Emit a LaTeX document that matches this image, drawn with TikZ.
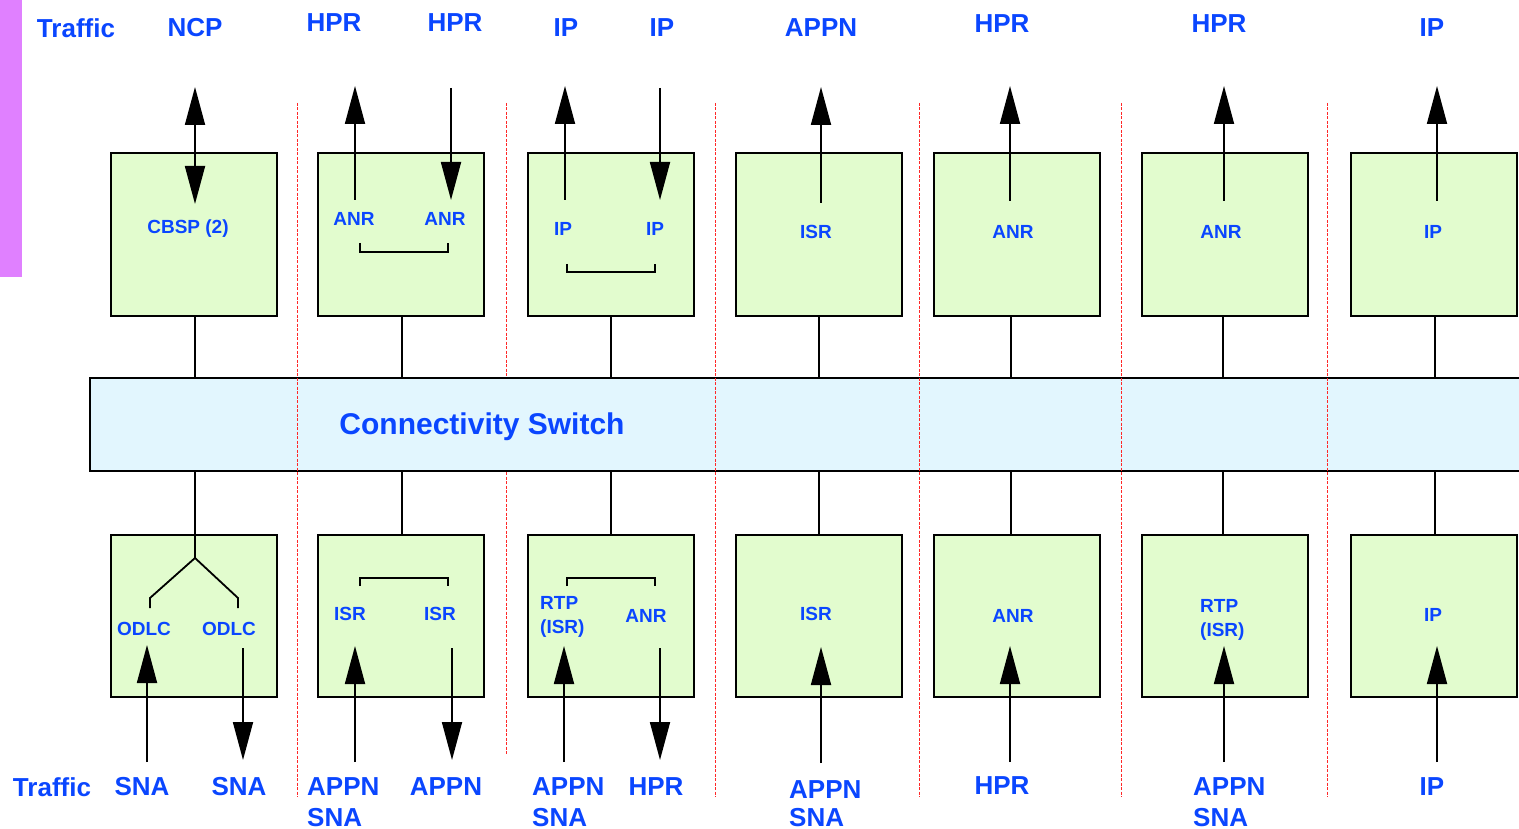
\documentclass[tikz,border=0pt]{standalone}
\usepackage{fontspec}
\setmainfont{Liberation Sans}
\usetikzlibrary{arrows.meta}
\definecolor{lblue}{RGB}{10,70,255}
\definecolor{boxgreen}{RGB}{226,252,206}
\definecolor{swcyan}{RGB}{226,246,254}
\definecolor{sepred}{RGB}{255,40,40}
\definecolor{barmag}{RGB}{224,128,255}

\begin{document}
\begin{tikzpicture}[x=1pt,y=-1pt,
  unit/.style={draw=black,line width=1.8pt,fill=boxgreen,minimum width=166pt,
    minimum height=163pt,inner sep=0pt,anchor=north west},
  switchbox/.style={draw=black,line width=1.8pt,fill=swcyan,minimum width=1440pt,
    minimum height=93pt,inner sep=0pt,anchor=north west},
  wire/.style={line width=1.8pt,draw=black},
  bracket/.style={line width=1.5pt,draw=black},
  arr/.style={line width=1.8pt,-{Triangle[length=38pt,width=20pt]}},
  darr/.style={line width=1.8pt,{Triangle[length=38pt,width=20pt]}-{Triangle[length=38pt,width=20pt]}},
  sep/.style={draw=sepred,line width=1pt,dash pattern=on 3pt off 1.5pt},
  big/.style={text=lblue,font=\fontsize{26}{31}\selectfont\bfseries,inner sep=0pt},
  small/.style={text=lblue,font=\fontsize{19}{24}\selectfont\bfseries,inner sep=0pt},
  huge/.style={text=lblue,font=\fontsize{30}{36}\selectfont\bfseries,inner sep=0pt}]

\clip (0,0) rectangle (1519,829);

% side bar
\fill[barmag] (0,0) rectangle (22,277);

% this separator runs behind the switch
\draw[sep] (506,103) -- (506,755);

% connectivity switch
\node[switchbox] (sw) at (89,377) {};
\node[huge,anchor=base] (swlabel) at (482,434) {Connectivity Switch};

% function units above and below the switch, with their links to it
\foreach \i/\l/\c in {1/110/195,2/317/402,3/527/611,4/735/819,5/933/1011,6/1141/1223,7/1350/1435} {
  \node[unit] (t\i) at (\l,152) {};
  \node[unit,minimum height=162pt] (b\i) at (\l,534) {};
  \coordinate (k\i) at (\c,0);
  \draw[wire] (t\i.south -| k\i) -- (sw.north -| k\i);
  \draw[wire] (sw.south -| k\i) -- (b\i.north -| k\i);
}

% the other column separators cross the switch
\foreach \x in {297,715,919,1121,1327}
  \draw[sep] (\x,103) -- (\x,797);

% traffic arrows (top)
\coordinate (n1a) at (195,87); \coordinate (n1b) at (195,204);
\draw[darr] (n1a) -- (n1b);
\foreach \n/\x/\a/\b in {u2/355/200/86,d2/451/88/200,u3/565/200/86,d3/660/88/200,
    u4/821/203/87,u5/1010/201/86,u6/1224/201/86,u7/1437/201/86} {
  \coordinate (\n s) at (\x,\a); \coordinate (\n e) at (\x,\b);
  \draw[arr] (\n s) -- (\n e);
}

% traffic arrows (bottom)
\foreach \n/\x/\a/\b in {p1/147/762/645,q1/243/648/760,p2/355/762/646,q2/452/648/760,
    p3/564/762/646,q3/660/648/760,p4/821/763/647,p5/1010/762/646,p6/1224/762/646,p7/1437/762/646} {
  \coordinate (\n s) at (\x,\a); \coordinate (\n e) at (\x,\b);
  \draw[arr] (\n s) -- (\n e);
}

% brackets inside the units
\draw[bracket] (360,243) -- (360,252) -- (448,252) -- (448,243);
\draw[bracket] (567,264) -- (567,272) -- (655,272) -- (655,264);
\draw[bracket] (360,586) -- (360,578) -- (448,578) -- (448,586);
\draw[bracket] (567,586) -- (567,578) -- (655,578) -- (655,586);

% fork to the two ODLC
\coordinate (fork) at (195,558);
\draw[wire] (b1.north -| k1) -- (fork) -- (150,598) -- (150,608);
\draw[wire] (fork) -- (238,598) -- (238,608);

% top labels
\node[big] (h0) at (76,28) {Traffic};
\node[big] (h1) at (195,28) {NCP};
\node[big] (h2) at (334,23) {HPR};
\node[big] (h3) at (455,23) {HPR};
\node[big] (h4) at (566,28) {IP};
\node[big] (h5) at (662,28) {IP};
\node[big] (h6) at (821,28) {APPN};
\node[big] (h7) at (1002,24) {HPR};
\node[big] (h8) at (1219,24) {HPR};
\node[big] (h9) at (1432,28) {IP};

% labels inside the upper units
\node[small] (i1) at (188,229) {CBSP (2)};
\node[small] (i2) at (354,219) {ANR};
\node[small] (i3) at (445,219) {ANR};
\node[small] (i4) at (563,229) {IP};
\node[small] (i5) at (655,229) {IP};
\node[small] (i6) at (816,232) {ISR};
\node[small] (i7) at (1013,232) {ANR};
\node[small] (i8) at (1221,232) {ANR};
\node[small] (i9) at (1433,232) {IP};

% labels inside the lower units (two-line ones sit on their last baseline)
\node[small] (j1) at (144,629) {ODLC};
\node[small] (j2) at (229,629) {ODLC};
\node[small] (j3) at (350,614) {ISR};
\node[small] (j4) at (440,614) {ISR};
\node[small,align=left,anchor=base west] (j5) at (540,633) {RTP\\(ISR)};
\node[small] (j6) at (646,616) {ANR};
\node[small] (j7) at (816,614) {ISR};
\node[small] (j8) at (1013,616) {ANR};
\node[small,align=left,anchor=base west] (j9) at (1200,636) {RTP\\(ISR)};
\node[small] (j10) at (1433,615) {IP};

% bottom labels
\node[big] (f0) at (52,787) {Traffic};
\node[big] (f1) at (142,787) {SNA};
\node[big] (f2) at (239,787) {SNA};
\node[big,align=left,anchor=base west] (f3) at (307,826) {APPN\\SNA};
\node[big] (f4) at (446,787) {APPN};
\node[big,align=left,anchor=base west] (f5) at (532,826) {APPN\\SNA};
\node[big] (f6) at (656,787) {HPR};
\node[big,align=left,anchor=base west,font=\fontsize{26}{28}\selectfont\bfseries] (f7) at (789,826) {APPN\\SNA};
\node[big] (f8) at (1002,786) {HPR};
\node[big,align=left,anchor=base west] (f9) at (1193,826) {APPN\\SNA};
\node[big] (f10) at (1432,787) {IP};
\end{tikzpicture}
\end{document}
